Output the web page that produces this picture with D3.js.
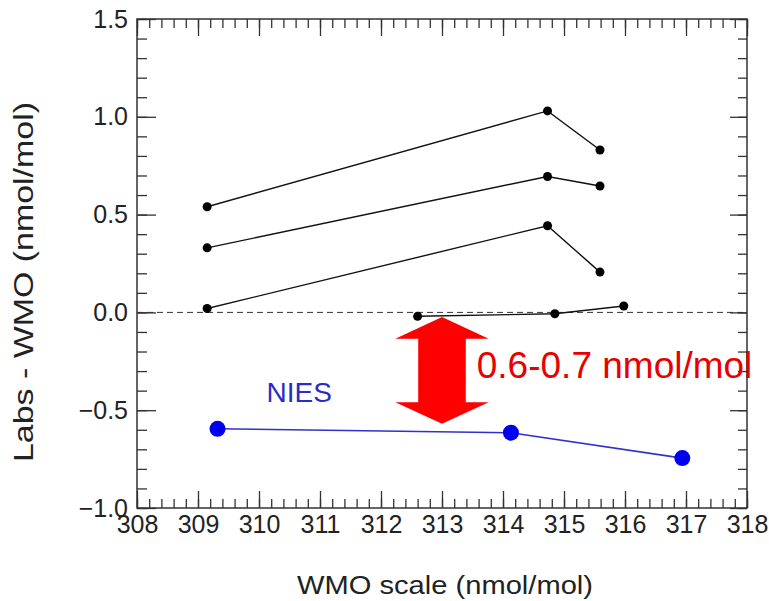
<!DOCTYPE html>
<html>
<head>
<meta charset="UTF-8">
<title>Labs - WMO</title>
<style>
  body { margin: 0; background: #fff; }
  svg { display: block; font-family: "Liberation Sans", Arial, sans-serif; }
  .axis text { fill: #222; font-size: 25px; }
  .axis line { stroke: #333; stroke-width: 1.3; }
  .axis path { display: none; }
</style>
</head>
<body>
<div id="chart"></div>
<script src="https://cdnjs.cloudflare.com/ajax/libs/d3/7.8.5/d3.min.js"></script>
<script>
// laboratory comparisons (black) and NIES (blue), x = WMO scale, y = Labs - WMO
const labA = [{x: 309.15, y: 0.54}, {x: 314.73, y: 1.03}, {x: 315.59, y: 0.83}];
const labB = [{x: 309.15, y: 0.33}, {x: 314.73, y: 0.695}, {x: 315.59, y: 0.646}];
const labC = [{x: 309.15, y: 0.02}, {x: 314.73, y: 0.443}, {x: 315.59, y: 0.206}];
const labD = [{x: 312.6, y: -0.02}, {x: 314.85, y: -0.007}, {x: 315.98, y: 0.033}];
const nies = [{x: 309.32, y: -0.595}, {x: 314.13, y: -0.615}, {x: 316.94, y: -0.745}];

const xTicks = [308, 309, 310, 311, 312, 313, 314, 315, 316, 317, 318];
const yTicks = [-1.0, -0.5, 0.0, 0.5, 1.0, 1.5];

const W = 769, H = 601;
const margin = {top: 19, left: 137, right: 22, bottom: 93};
const width = W - margin.left - margin.right,
      height = H - margin.top - margin.bottom;

const svg = d3.select('#chart').append('svg')
  .attr('width', W)
  .attr('height', H);
const g = svg.append('g')
  .attr('transform', 'translate(' + margin.left + ',' + margin.top + ')');

const x = d3.scaleLinear().domain([308, 318]).range([0, width]);
const y = d3.scaleLinear().domain([-1.0, 1.5]).range([height, 0]);

const xMinor = d3.range(308, 318.001, 0.2).map(v => +v.toFixed(1));
const yMinor = d3.range(-1.0, 1.5001, 0.1).map(v => +v.toFixed(1));

// minor ticks on all four sides
g.append('g').attr('class', 'axis').attr('transform', 'translate(0,' + height + ')')
  .call(d3.axisBottom(x).tickValues(xMinor).tickSize(-9).tickFormat(''));
g.append('g').attr('class', 'axis')
  .call(d3.axisTop(x).tickValues(xMinor).tickSize(-9).tickFormat(''));
g.append('g').attr('class', 'axis')
  .call(d3.axisLeft(y).tickValues(yMinor).tickSize(-10).tickFormat(''));
g.append('g').attr('class', 'axis').attr('transform', 'translate(' + width + ',0)')
  .call(d3.axisRight(y).tickValues(yMinor).tickSize(-9).tickFormat(''));

// major ticks + labels
g.append('g').attr('class', 'axis').attr('transform', 'translate(0,' + height + ')')
  .call(d3.axisBottom(x).tickValues(xTicks).tickSize(-17).tickPadding(7).tickFormat(d3.format('d')));
g.append('g').attr('class', 'axis')
  .call(d3.axisTop(x).tickValues(xTicks).tickSize(-17).tickFormat(''));
g.append('g').attr('class', 'axis')
  .call(d3.axisLeft(y).tickValues(yTicks).tickSize(-19).tickPadding(9).tickFormat(d3.format('.1f')));
g.append('g').attr('class', 'axis').attr('transform', 'translate(' + width + ',0)')
  .call(d3.axisRight(y).tickValues(yTicks).tickSize(-17).tickFormat(''));

// frame
g.append('rect')
  .attr('width', width).attr('height', height)
  .attr('fill', 'none').attr('stroke', '#333').attr('stroke-width', 1.5);

// zero line
g.append('line')
  .attr('x1', 0).attr('x2', width)
  .attr('y1', y(0)).attr('y2', y(0))
  .attr('stroke', '#333').attr('stroke-width', 1)
  .attr('stroke-dasharray', '6,4');

const line = d3.line().x(d => x(d.x)).y(d => y(d.y));

[labA, labB, labC, labD].forEach(s => {
  g.append('path').datum(s)
    .attr('d', line)
    .attr('fill', 'none').attr('stroke', '#111').attr('stroke-width', 1.4);
  g.selectAll(null).data(s).enter().append('circle')
    .attr('cx', d => x(d.x)).attr('cy', d => y(d.y))
    .attr('r', 4.5).attr('fill', '#000');
});

g.append('path').datum(nies)
  .attr('d', line)
  .attr('fill', 'none').attr('stroke', '#3030cc').attr('stroke-width', 1.6);
g.selectAll(null).data(nies).enter().append('circle')
  .attr('cx', d => x(d.x)).attr('cy', d => y(d.y))
  .attr('r', 8).attr('fill', '#0000f0');

g.append('text')
  .attr('x', x(310.66)).attr('y', y(-0.46))
  .attr('text-anchor', 'middle')
  .attr('font-size', 28).attr('fill', '#2b2bcc')
  .text('NIES');

// red double arrow showing the offset
const ax = 313, headHalf = 0.765, shaftHalf = 0.39;
const tipTop = -0.024, baseTop = -0.135, baseBot = -0.459, tipBot = -0.569;
const arrowPts = [
  [ax, tipTop], [ax + headHalf, baseTop], [ax + shaftHalf, baseTop],
  [ax + shaftHalf, baseBot], [ax + headHalf, baseBot], [ax, tipBot],
  [ax - headHalf, baseBot], [ax - shaftHalf, baseBot], [ax - shaftHalf, baseTop],
  [ax - headHalf, baseTop]
];
g.append('polygon')
  .attr('points', arrowPts.map(p => x(p[0]) + ',' + y(p[1])).join(' '))
  .attr('fill', '#ff0000');

g.append('text')
  .attr('x', x(313.57)).attr('y', y(-0.337))
  .attr('font-size', 37).attr('fill', '#e80000')
  .text('0.6-0.7 nmol/mol');

// axis titles
svg.append('text')
  .attr('x', 445).attr('y', 594)
  .attr('text-anchor', 'middle')
  .attr('font-size', 25).attr('fill', '#222')
  .attr('textLength', 296).attr('lengthAdjust', 'spacingAndGlyphs')
  .text('WMO scale (nmol/mol)');

svg.append('text')
  .attr('transform', 'translate(33,282) rotate(-90)')
  .attr('text-anchor', 'middle')
  .attr('font-size', 27).attr('fill', '#222')
  .attr('textLength', 360).attr('lengthAdjust', 'spacingAndGlyphs')
  .text('Labs - WMO (nmol/mol)');
</script>
</body>
</html>
